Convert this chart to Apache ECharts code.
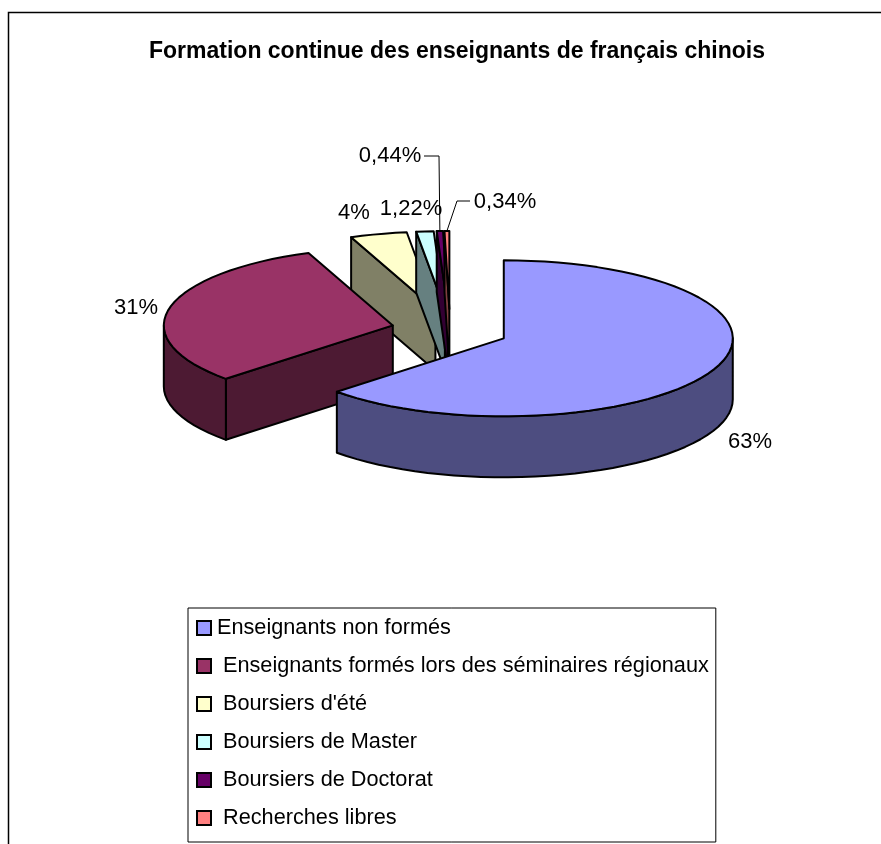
<!DOCTYPE html>
<html>
<head>
<meta charset="utf-8">
<title>Formation continue</title>
<script src="https://cdn.jsdelivr.net/npm/echarts@6/dist/echarts.min.js"></script>
<style>
  html, body { margin: 0; padding: 0; background: #fff; }
  #main { width: 881px; height: 844px; }
</style>
</head>
<body>
<div id="main"></div>
<script>
const categories = [
  "Enseignants non formés",
  "Enseignants formés lors des séminaires régionaux",
  "Boursiers d'été",
  "Boursiers de Master",
  "Boursiers de Doctorat",
  "Recherches libres",
];
const values = [63, 31, 4, 1.22, 0.44, 0.34];

const topColors = ["#9999FF", "#993366", "#FFFFCC", "#CCFFFF", "#660066", "#FF8080"];
const wallColors = ["#4D4D80", "#4D1A33", "#808066", "#668080", "#330033", "#804040"];
// painter's order: back slivers first, big slices last
const drawRank = [6, 5, 1, 2, 3, 4];
// label centre and optional leader elbow, in pixels
const labelSpots = [
  { x: 750, y: 442 },
  { x: 136, y: 308 },
  { x: 354, y: 213 },
  { x: 411, y: 209 },
  { x: 390, y: 156, from: [424, 156], elbow: [439, 156] },
  { x: 505, y: 202, from: [470, 201], elbow: [457, 201] },
];

const pie = { cx: 450, cy: 330, rx: 229, ry: 78, depth: 61, explodeX: 58.6, explodeY: 21 };
const total = values.reduce((a, b) => a + b, 0);
const font = "Liberation Sans, Arial, sans-serif";
const edge = { stroke: "#000", lineWidth: 2, lineJoin: "round" };

function percentText(v) {
  return String(v).replace(".", ",") + "%";
}

function sliceItem(index) {
  return function () {
    const before = values.slice(0, index).reduce((a, b) => a + b, 0);
    const start = (before / total) * 2 * Math.PI;
    const end = ((before + values[index]) / total) * 2 * Math.PI;
    const mid = (start + end) / 2;
    const ox = pie.cx + pie.explodeX * Math.sin(mid);
    const oy = pie.cy - pie.explodeY * Math.cos(mid);
    const rim = (a, drop) => [
      ox + pie.rx * Math.sin(a),
      oy - pie.ry * Math.cos(a) + (drop || 0),
    ];
    const arc = (a, b, drop) => {
      const n = Math.max(1, Math.ceil((b - a) / 0.06));
      const pts = [];
      for (let i = 0; i <= n; i++) pts.push(rim(a + ((b - a) * i) / n, drop));
      return pts;
    };
    const poly = (points, fill) => ({
      type: "polygon",
      shape: { points: points },
      style: Object.assign({ fill: fill }, edge),
      silent: true,
    });

    const children = [];
    const wall = wallColors[index];
    const under = [ox, oy + pie.depth];
    // radial cut faces that look towards the viewer
    if (Math.sin(start) < 0) {
      children.push(poly([[ox, oy], rim(start), rim(start, pie.depth), under], wall));
    }
    if (Math.sin(end) > 0.01) {
      children.push(poly([[ox, oy], rim(end), rim(end, pie.depth), under], wall));
    }
    // outer wall only exists on the front half of the ellipse
    const wallStart = Math.max(start, Math.PI / 2);
    const wallEnd = Math.min(end, (3 * Math.PI) / 2);
    if (wallEnd > wallStart) {
      const front = arc(wallStart, wallEnd, 0);
      const back = arc(wallStart, wallEnd, pie.depth).reverse();
      children.push(poly(front.concat(back), wall));
    }
    children.push(poly([[ox, oy]].concat(arc(start, end, 0)), topColors[index]));

    const spot = labelSpots[index];
    if (spot.from) {
      children.push({
        type: "polyline",
        shape: { points: [spot.from, spot.elbow, rim(mid)] },
        style: { stroke: "#000", lineWidth: 1, fill: null },
        silent: true,
      });
    }
    children.push({
      type: "text",
      style: {
        text: percentText(values[index]),
        x: spot.x,
        y: spot.y,
        fill: "#000",
        font: "22px " + font,
        textAlign: "center",
        textVerticalAlign: "middle",
      },
      silent: true,
    });
    return { type: "group", children: children };
  };
}

const myChart = echarts.init(document.getElementById("main"), null, { renderer: "canvas" });

const option = {
  animation: false,
  backgroundColor: "#fff",
  title: {
    text: "Formation continue des enseignants de français chinois",
    left: 452,
    textAlign: "center",
    top: 35,
    textStyle: { fontFamily: font, fontSize: 23, fontWeight: "bold", color: "#000" },
  },
  legend: {
    orient: "vertical",
    left: 188,
    top: 608,
    padding: [9, 7, 13, 8],
    borderColor: "#000",
    borderWidth: 1,
    icon: "rect",
    itemWidth: 14,
    itemHeight: 14,
    itemGap: 16,
    selectedMode: false,
    itemStyle: { borderColor: "#000", borderWidth: 2 },
    textStyle: { fontFamily: font, fontSize: 21.7, color: "#000", padding: [0, 0, 0, 7] },
    data: categories.map((name, i) =>
      i === 0 ? { name: name, textStyle: { padding: [0, 0, 0, 1] } } : { name: name }
    ),
  },
  tooltip: { show: false },
  graphic: [
    {
      type: "polyline",
      shape: { points: [[8.5, 844], [8.5, 12.5], [881, 12.5]] },
      style: { stroke: "#000", lineWidth: 1.5, fill: null },
      silent: true,
    },
  ],
  series: categories.map((name, i) => ({
    type: "custom",
    name: name,
    coordinateSystem: "none",
    z: drawRank[i] + 2,
    silent: true,
    itemStyle: { color: topColors[i] },
    renderItem: sliceItem(i),
    data: [values[i]],
  })),
};

myChart.setOption(option);
</script>
</body>
</html>
